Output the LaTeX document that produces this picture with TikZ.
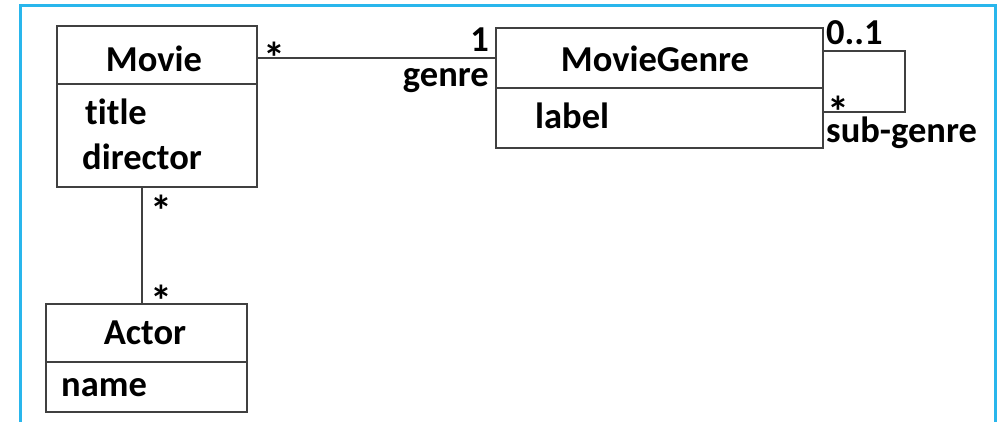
\documentclass[tikz,border=0pt]{standalone}
\usepackage{fontspec}
\setmainfont[Ligatures=NoCommon]{Carlito}
\definecolor{frameblue}{RGB}{41,182,236}
\definecolor{linegray}{RGB}{64,64,64}
\newcommand{\mystar}{\raisebox{-20pt}[13pt][0pt]{*}}
\tikzset{
  box/.style={draw=linegray, line width=2pt, inner sep=0pt},
  txt/.style={inner sep=0pt, font=\fontsize{36.5}{40}\selectfont\bfseries},
  star/.style={inner sep=0pt, font=\fontsize{44}{48}\selectfont\bfseries},
  conn/.style={draw=linegray, line width=2pt},
}
\begin{document}
\begin{tikzpicture}[x=1pt,y=-1pt]
\useasboundingbox (0,0) rectangle (1008,422);
\draw[frameblue, line width=3pt] (20,422) -- (20,6) -- (995,6) -- (995,422);
% Movie
\node[box, minimum width=200pt, minimum height=58pt] (moviehd) at (157,55) {};
\node[box, minimum width=200pt, minimum height=103pt] (movieattr) at (157,135.5) {};
\node[txt, anchor=base] (mname) at (154,72) {Movie};
\node[txt, anchor=base west] (mtitle) at (85,125) {title};
\node[txt, anchor=base west] (mdir) at (82,169) {director};
% MovieGenre
\node[box, minimum width=327pt, minimum height=60pt] (genrehd) at (659.5,58) {};
\node[box, minimum width=327pt, minimum height=60pt] (genreattr) at (659.5,118) {};
\node[txt, anchor=base] (gname) at (655,72) {MovieGenre};
\node[txt, anchor=base west] (glabel) at (535,129) {label};
% Actor
\node[box, minimum width=201pt, minimum height=58pt] (actorhd) at (146.5,333) {};
\node[box, minimum width=201pt, minimum height=50pt] (actorattr) at (146.5,387) {};
\node[txt, anchor=base] (aname0) at (145,344) {Actor};
\node[txt, anchor=base west] (aname) at (61,396) {name};
% connectors
\draw[conn] (genrehd.west) -- (genrehd.west -| moviehd.east);
\draw[conn] ([xshift=-4.5pt]actorhd.north) -- ([xshift=-4.5pt]actorhd.north |- movieattr.south);
\draw[conn] ([yshift=7pt]genrehd.east) -| ([xshift=81pt,yshift=6pt]genreattr.east) -- ([yshift=6pt]genreattr.east);
% multiplicities
\node[star, anchor=base west] (m1) at (263,54) {\mystar};
\node[txt, anchor=base east] (m2) at (489,52) {1};
\node[txt, anchor=base east] (m3) at (489,87) {genre};
\node[txt, anchor=base west] (m4) at (826,45) {0..1};
\node[star, anchor=base west] (m5) at (827,108) {\mystar};
\node[txt, anchor=base west] (m6) at (826,143) {sub-genre};
\node[star, anchor=base west] (m7) at (150,207) {\mystar};
\node[star, anchor=base west] (m8) at (150,296) {\mystar};
\end{tikzpicture}
\end{document}
